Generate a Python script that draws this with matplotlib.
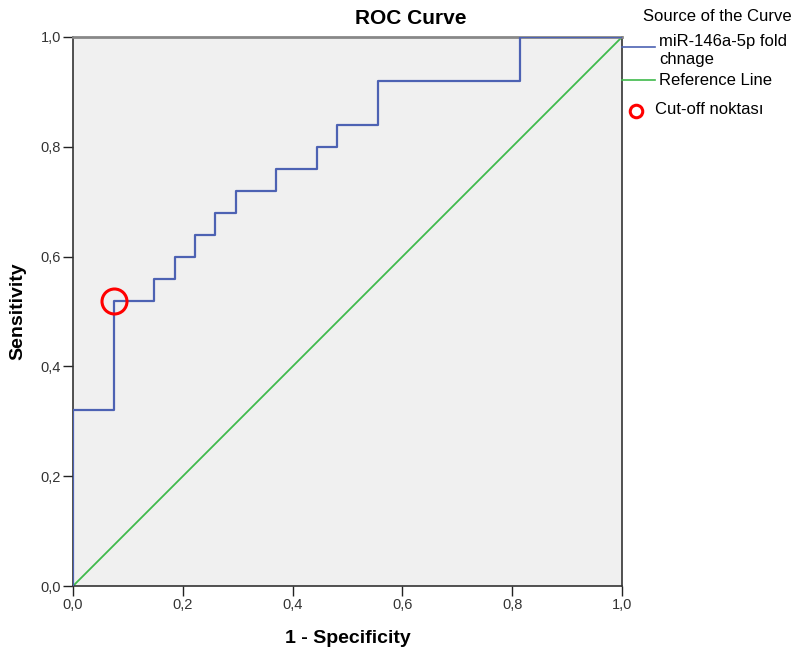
import matplotlib
matplotlib.use("Agg")
import matplotlib.pyplot as plt
from matplotlib.lines import Line2D
from matplotlib.ticker import FuncFormatter

plt.rcParams['font.family'] = ['Liberation Sans', 'DejaVu Sans']

# ROC steps (1 - specificity, sensitivity)
fpr = [0, 0, 2/27, 2/27, 4/27, 4/27, 5/27, 5/27, 6/27, 6/27, 7/27, 7/27,
       8/27, 8/27, 10/27, 10/27, 12/27, 12/27, 13/27, 13/27, 15/27, 15/27,
       22/27, 22/27, 1.0]
tpr = [0, 0.32, 0.32, 0.52, 0.52, 0.56, 0.56, 0.60, 0.60, 0.64, 0.64, 0.68,
       0.68, 0.72, 0.72, 0.76, 0.76, 0.80, 0.80, 0.84, 0.84, 0.92,
       0.92, 1.0, 1.0]
cutoff = (2/27, 0.52)
ticks = [0.0, 0.2, 0.4, 0.6, 0.8, 1.0]

blue = '#4d62b3'
green = '#3fba4c'
red = '#ff0000'

fig = plt.figure(figsize=(7.98, 6.52), dpi=100)
ax = fig.add_axes([0.0915, 0.1012, 0.688, 0.8421])
ax.set_facecolor('#f0f0f0')

ax.plot([0, 1], [0, 1], color=green, lw=1.3, zorder=2)
ax.plot(fpr, tpr, color=blue, lw=1.6, zorder=3)
ax.plot([cutoff[0]], [cutoff[1]], 'o', ms=18, mfc='none', mec=red, mew=2.2, zorder=4)

ax.set_xlim(0, 1)
ax.set_ylim(0, 1)
ax.set_xticks(ticks)
ax.set_yticks(ticks)
fmt = FuncFormatter(lambda v, p: f"{v:.1f}".replace('.', ','))
ax.xaxis.set_major_formatter(fmt)
ax.yaxis.set_major_formatter(fmt)
ax.tick_params(direction='out', length=7, width=1, labelsize=10.5, color='#222222',
               labelcolor='#333333', pad=1.5)
for s in ax.spines.values():
    s.set_color('#333333')
    s.set_linewidth(1.2)
ax.spines['top'].set_color('#888888')
ax.spines['top'].set_linewidth(2)

ax.set_xlabel('1 - Specificity', fontsize=14, fontweight='bold', labelpad=13)
ax.set_ylabel('Sensitivity', fontsize=14, fontweight='bold', labelpad=10)
fig.text(0.515, 0.972, 'ROC Curve', ha='center', va='center', fontsize=15, fontweight='bold')

# legend, drawn by hand like SPSS
fs = 12
fig.text(0.806, 0.975, 'Source of the Curve', ha='left', va='center', fontsize=fs)
fig.add_artist(Line2D([0.779, 0.821], [0.928, 0.928], color=blue, lw=1.2))
fig.text(0.826, 0.937, 'miR-146a-5p fold', ha='left', va='center', fontsize=fs)
fig.text(0.826, 0.909, 'chnage', ha='left', va='center', fontsize=fs)
fig.add_artist(Line2D([0.779, 0.821], [0.877, 0.877], color=green, lw=1.2))
fig.text(0.826, 0.876, 'Reference Line', ha='left', va='center', fontsize=fs)
fig.add_artist(Line2D([0.797], [0.829], marker='o', ms=9, mfc='none', mec=red, mew=2.2))
fig.text(0.821, 0.832, 'Cut-off noktası', ha='left', va='center', fontsize=fs)

fig.savefig('out.png', dpi=100)
